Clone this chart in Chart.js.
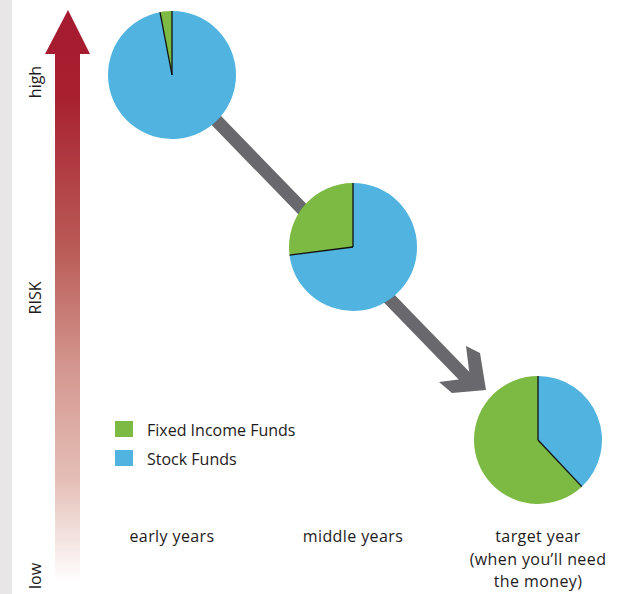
<!DOCTYPE html>
<html>
<head>
<meta charset="utf-8">
<script src="https://cdn.jsdelivr.net/npm/chart.js@4/dist/chart.umd.min.js"></script>
<style>
  html, body { margin:0; padding:0; background:#fff; }
  body { width:623px; height:594px; position:relative; overflow:hidden; font-family:"Open Sans","Noto Sans",sans-serif; color:#1e1b1c; }
  #strip { position:absolute; left:0; top:0; width:12px; height:594px; background:#e8e6e6; }
  .pie { position:absolute; width:140px; height:140px; }
  .rot { position:absolute; font-size:16px; transform:translate(-50%,-50%) rotate(-90deg); white-space:nowrap; line-height:1; }
  .cat { position:absolute; font-size:16px; text-align:center; line-height:22.5px; transform:translateX(-50%); white-space:nowrap; letter-spacing:0.4px; }
  .leg { position:absolute; font-size:16px; line-height:16px; white-space:nowrap; }
  .sw { position:absolute; width:18px; height:16px; }
  svg { position:absolute; left:0; top:0; }
</style>
</head>
<body>
<div id="strip"></div>
<svg width="623" height="594">
  <defs>
    <linearGradient id="riskGrad" x1="0" y1="10" x2="0" y2="582" gradientUnits="userSpaceOnUse">
      <stop offset="0" stop-color="#a51b30"/>
      <stop offset="0.15" stop-color="#a8202f"/>
      <stop offset="0.42" stop-color="#ba5c58"/>
      <stop offset="0.63" stop-color="#d49890"/>
      <stop offset="0.82" stop-color="#e4beb6"/>
      <stop offset="1" stop-color="#ffffff"/>
    </linearGradient>
  </defs>
  <polygon points="68,10 45,54 55,54 55,582 80,582 80,54 90,54" fill="url(#riskGrad)"/>
  <line x1="180" y1="83" x2="474" y2="386" stroke="#69696d" stroke-width="13"/>
  <polygon points="466,346 480,353 486,390 452,393 439,382 470,378" fill="#69696d"/>
</svg>
<div id="labels"></div>
<div id="pies"></div>
<div id="legend"></div>
<script>
// ---- data ----
const categories = ['early years', 'middle years', ['target year', '(when you\u2019ll need', 'the money)']];
const seriesNames = ['Fixed Income Funds', 'Stock Funds'];
const fixedIncome = [3, 27, 62];
const stockFunds = [97, 73, 38];
const riskLabels = ['high', 'RISK', 'low'];

// ---- presentation ----
const colors = { 'Fixed Income Funds': '#7cba43', 'Stock Funds': '#51b3df' };
const pieCenters = [[172, 75], [353, 247], [538, 440]];
const riskPos = [[35, 82], [35, 298], [35, 576]];

const labelsDiv = document.getElementById('labels');
riskLabels.forEach((t, i) => {
  const d = document.createElement('div');
  d.className = 'rot';
  d.textContent = t;
  d.style.left = riskPos[i][0] + 'px';
  d.style.top = riskPos[i][1] + 'px';
  labelsDiv.appendChild(d);
});
categories.forEach((c, i) => {
  const d = document.createElement('div');
  d.className = 'cat';
  (Array.isArray(c) ? c : [c]).forEach((line, j) => {
    if (j) d.appendChild(document.createElement('br'));
    d.appendChild(document.createTextNode(line));
  });
  d.style.left = pieCenters[i][0] + 'px';
  d.style.top = '525px';
  labelsDiv.appendChild(d);
});

const legendDiv = document.getElementById('legend');
seriesNames.forEach((n, i) => {
  const sw = document.createElement('div');
  sw.className = 'sw';
  sw.style.background = colors[n];
  sw.style.left = '115px';
  sw.style.top = (421 + i * 29) + 'px';
  legendDiv.appendChild(sw);
  const t = document.createElement('div');
  t.className = 'leg';
  t.textContent = n;
  t.style.left = '147px';
  t.style.top = (421 + i * 29 + 1) + 'px';
  legendDiv.appendChild(t);
});

const radialLines = {
  id: 'radialLines',
  afterDatasetsDraw(chart) {
    const ctx = chart.ctx;
    const meta = chart.getDatasetMeta(0);
    ctx.save();
    ctx.strokeStyle = '#111';
    ctx.lineWidth = 1.3;
    meta.data.forEach(arc => {
      const p = arc.getProps(['x', 'y', 'startAngle', 'outerRadius'], true);
      ctx.beginPath();
      ctx.moveTo(p.x, p.y);
      ctx.lineTo(p.x + p.outerRadius * Math.cos(p.startAngle), p.y + p.outerRadius * Math.sin(p.startAngle));
      ctx.stroke();
    });
    ctx.restore();
  }
};

const piesDiv = document.getElementById('pies');
const sliceOrder = ['Stock Funds', 'Fixed Income Funds'];
categories.forEach((c, i) => {
  const box = document.createElement('div');
  box.className = 'pie';
  box.style.left = (pieCenters[i][0] - 70) + 'px';
  box.style.top = (pieCenters[i][1] - 70) + 'px';
  const cv = document.createElement('canvas');
  box.appendChild(cv);
  piesDiv.appendChild(box);
  new Chart(cv, {
    type: 'pie',
    data: {
      labels: sliceOrder,
      datasets: [{
        data: [stockFunds[i], fixedIncome[i]],
        backgroundColor: sliceOrder.map(n => colors[n]),
        borderWidth: 0
      }]
    },
    options: {
      responsive: true,
      maintainAspectRatio: false,
      animation: false,
      radius: 64,
      layout: { padding: 0 },
      plugins: { legend: { display: false }, tooltip: { enabled: false } }
    },
    plugins: [radialLines]
  });
});
</script>
</body>
</html>
